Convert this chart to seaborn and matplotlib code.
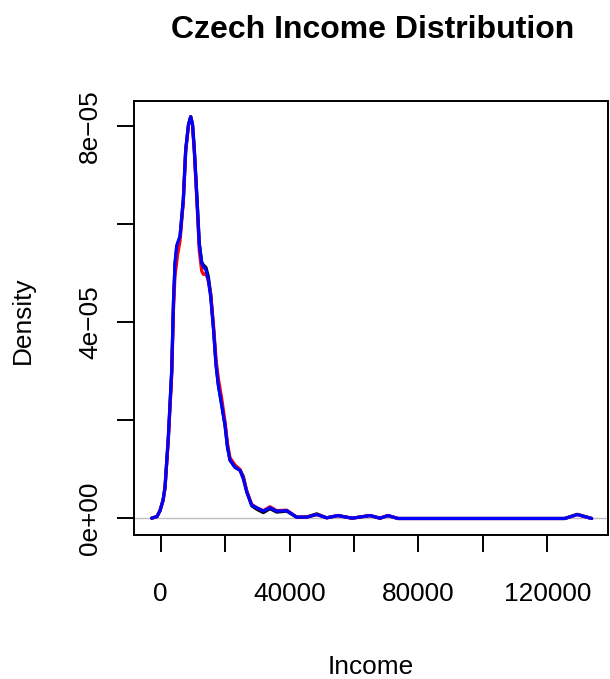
import numpy as np
import pandas as pd
import matplotlib
matplotlib.use("Agg")
import matplotlib.pyplot as plt
import seaborn as sns

# ---- data (density curves, x = income) ----
income = [-2794, -1148, -217, 714, 1335, 2359, 3414, 3973, 4439, 4966, 5277, 5991,
          7015, 7760, 8629, 9312, 9871, 10429, 11268, 11981, 12726, 13285, 14061,
          14775, 15520, 16389, 17165, 17879, 18934, 19959, 20735, 21511, 23063,
          24615, 25639, 26694, 28246, 29798, 31847, 33927, 36006, 39110, 42214,
          45318, 48422, 51526, 55034, 59380, 64967, 68071, 70554, 73658, 125430,
          129311, 133781]

density_blue = [0.06e-6, 0.4e-6, 1.6e-6, 3.7e-6, 6.4e-6, 16.6e-6, 30.3e-6, 44.6e-6,
                52.2e-6, 55.7e-6, 56.3e-6, 57.6e-6, 65.1e-6, 75.3e-6, 80.4e-6, 82.0e-6,
                80.4e-6, 75.3e-6, 65.1e-6, 55.9e-6, 52.1e-6, 51.4e-6, 50.7e-6, 48.7e-6,
                45.2e-6, 38.5e-6, 31.3e-6, 27.2e-6, 23.1e-6, 19.0e-6, 14.5e-6, 11.9e-6,
                10.5e-6, 9.8e-6, 8.1e-6, 5.4e-6, 2.7e-6, 2.2e-6, 1.5e-6, 2.2e-6, 1.5e-6,
                1.6e-6, 0.27e-6, 0.27e-6, 0.8e-6, 0.14e-6, 0.6e-6, 0.06e-6, 0.6e-6,
                0.06e-6, 0.6e-6, 0.0, 0.0, 0.8e-6, 0.0]

density_black = [0.06e-6, 0.4e-6, 1.6e-6, 3.7e-6, 6.3e-6, 16.4e-6, 30.0e-6, 44.2e-6,
                 51.8e-6, 55.2e-6, 56.0e-6, 57.5e-6, 65.0e-6, 75.2e-6, 80.4e-6, 82.0e-6,
                 80.5e-6, 75.5e-6, 65.4e-6, 56.2e-6, 52.3e-6, 51.7e-6, 51.2e-6, 49.4e-6,
                 45.8e-6, 38.8e-6, 31.5e-6, 27.4e-6, 23.2e-6, 19.1e-6, 14.6e-6, 11.9e-6,
                 10.4e-6, 9.9e-6, 8.6e-6, 5.6e-6, 2.6e-6, 1.9e-6, 1.2e-6, 2.0e-6, 1.3e-6,
                 1.5e-6, 0.25e-6, 0.3e-6, 0.95e-6, 0.14e-6, 0.6e-6, 0.06e-6, 0.6e-6,
                 0.06e-6, 0.6e-6, 0.0, 0.0, 0.85e-6, 0.0]

density_red = [0.06e-6, 0.4e-6, 1.6e-6, 3.6e-6, 6.1e-6, 15.9e-6, 29.2e-6, 42.8e-6,
               49.6e-6, 52.3e-6, 54.0e-6, 56.6e-6, 64.6e-6, 75.0e-6, 80.3e-6, 82.0e-6,
               80.2e-6, 74.8e-6, 64.2e-6, 54.6e-6, 50.5e-6, 49.8e-6, 50.0e-6, 48.5e-6,
               45.8e-6, 39.5e-6, 32.5e-6, 28.6e-6, 24.5e-6, 19.8e-6, 15.3e-6, 12.4e-6,
               10.9e-6, 10.0e-6, 8.3e-6, 5.6e-6, 2.9e-6, 2.2e-6, 1.6e-6, 2.4e-6, 1.6e-6,
               1.7e-6, 0.3e-6, 0.27e-6, 0.8e-6, 0.14e-6, 0.6e-6, 0.06e-6, 0.6e-6,
               0.06e-6, 0.6e-6, 0.0, 0.0, 0.8e-6, 0.0]

x_ticks = [0, 20000, 40000, 60000, 80000, 100000, 120000]
x_tick_labels = ["0", "", "40000", "", "80000", "", "120000"]
y_ticks = [0, 2e-5, 4e-5, 6e-5, 8e-5]
y_tick_labels = ["0e+00", "", "4e\u221205", "", "8e\u221205"]

sns.set_style("white")
plt.rcParams["font.family"] = ["Liberation Sans", "DejaVu Sans"]
plt.rcParams["text.color"] = "black"
plt.rcParams["axes.labelcolor"] = "black"

W, H = 610, 679
fig = plt.figure(figsize=(W / 100, H / 100), dpi=100)
ax = fig.add_axes([134 / W, 1 - 535 / H, (608 - 134) / W, (535 - 101) / H])

ax.axhline(0, color="#bebebe", lw=1.0, zorder=1)

curves = [("black", density_black), ("red", density_red), ("blue", density_blue)]
for color, dens in curves:
    df = pd.DataFrame({"Income": income, "Density": dens})
    sns.lineplot(data=df, x="Income", y="Density", ax=ax, color=color, lw=2.3,
                 sort=False, estimator=None, zorder=3,
                 solid_joinstyle="round", solid_capstyle="round")

ax.set_xlim(-8290, 138850)
ax.set_ylim(-3.37e-6, 85.2e-6)

ax.set_xticks(x_ticks, labels=x_tick_labels)
ax.set_yticks(y_ticks, labels=y_tick_labels)
plt.setp(ax.get_yticklabels(), rotation=90, va="center")
ax.tick_params(axis="both", direction="out", length=12, width=1.4, colors="black",
               labelsize=18.9, bottom=True, left=True)
ax.tick_params(axis="x", pad=21.5)
ax.tick_params(axis="y", pad=11)
for s in ax.spines.values():
    s.set_color("black")
    s.set_linewidth(1.4)
ax.set_xlabel("")
ax.set_ylabel("")
ax.grid(False)

fig.text(373 / W, 1 - 37.5 / H, "Czech Income Distribution", ha="center", va="baseline",
         fontsize=23, fontweight="bold", color="black")
fig.text(371 / W, 1 - 673.5 / H, "Income", ha="center", va="baseline", fontsize=18.9,
         color="black")
fig.text(23 / W, 1 - 320 / H, "Density", ha="center", va="center", rotation=90,
         fontsize=18.9, color="black")

fig.savefig("out.png", dpi=100, facecolor="white")
